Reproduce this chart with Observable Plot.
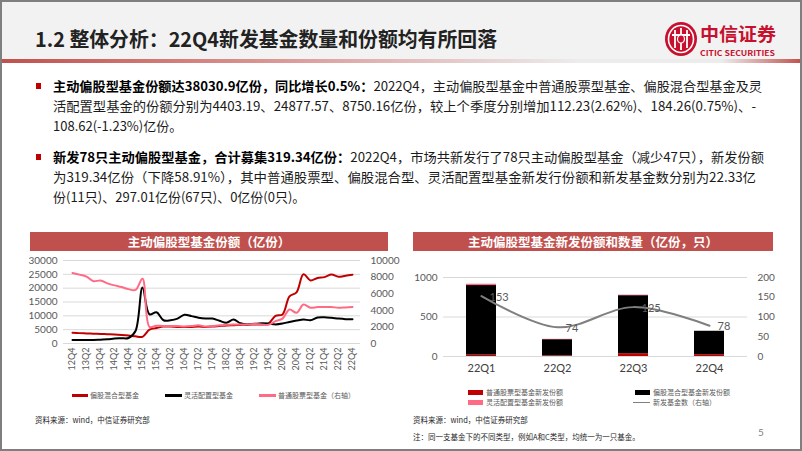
<!DOCTYPE html>
<html><head><meta charset="utf-8">
<script src="https://cdn.jsdelivr.net/npm/d3@7"></script>
<script src="https://cdn.jsdelivr.net/npm/@observablehq/plot@0.6"></script>
<style>
html,body{margin:0;padding:0;background:#fff;}
#slide{position:relative;width:802px;height:451px;overflow:hidden;background:#fff;font-family:"Noto Sans CJK SC","Noto Sans",sans-serif;}
.abs{position:absolute;}
.banner{position:absolute;top:232px;height:19px;background:#C0504D;color:#fff;font-weight:bold;font-size:12.5px;line-height:19px;text-align:center;white-space:nowrap;}
.leg{position:absolute;font-size:7px;color:#595959;white-space:nowrap;line-height:10px;}
.sw{position:absolute;}
.src{position:absolute;font-size:7.5px;color:#262626;white-space:nowrap;line-height:10px;}
</style></head><body>
<div id="slide">
  <div class="abs" style="left:0;top:0;width:802px;height:59px;background:#f2f2f2"></div>
  <div class="abs" style="left:0;top:59px;width:802px;height:4px;background:linear-gradient(to right,#C0504D 0%,#d88e8c 30%,#ececec 72%,#ececec 90%,#C0504D 100%)"></div>
  <svg class="abs" style="left:0;top:0" width="802" height="230" font-family="'Noto Sans CJK SC', sans-serif">
    <text x="35" y="47" font-size="20" font-weight="bold" fill="#222" textLength="462" lengthAdjust="spacingAndGlyphs">1.2 整体分析：22Q4新发基金数量和份额均有所回落</text>
    <g transform="translate(681,39)">
      <ellipse rx="16" ry="17" fill="#C8102E"/>
      <ellipse rx="12.5" ry="13.5" fill="none" stroke="#fff" stroke-width="1.6"/>
      <path d="M-6,-9 V9 M0,-11 V11 M6,-9 V9 M-9,-4 H9" stroke="#fff" stroke-width="1.8" fill="none"/>
      <ellipse rx="3.5" ry="4" fill="#C8102E" stroke="#fff" stroke-width="1.2"/>
    </g>
    <text x="700" y="41" font-size="18" font-weight="bold" fill="#C8102E" textLength="76" lengthAdjust="spacingAndGlyphs">中信证券</text>
    <text x="700" y="56" font-size="7" font-weight="bold" fill="#C8102E" textLength="75" lengthAdjust="spacingAndGlyphs">CITIC SECURITIES</text>
    <g font-size="13" fill="#1a1a1a">
      <rect x="36" y="83" width="5" height="6" fill="#C00000"/>
      <text x="53" y="91" textLength="709" lengthAdjust="spacingAndGlyphs"><tspan font-weight="bold" fill="#000">主动偏股型基金份额达38030.9亿份，同比增长0.5%：</tspan>2022Q4，主动偏股型基金中普通股票型基金、偏股混合型基金及灵</text>
      <text x="53" y="111" textLength="703" lengthAdjust="spacingAndGlyphs">活配置型基金的份额分别为4403.19、24877.57、8750.16亿份，较上个季度分别增加112.23(2.62%)、184.26(0.75%)、-</text>
      <text x="53" y="131">108.62(-1.23%)亿份。</text>
      <rect x="36" y="154" width="5" height="6" fill="#C00000"/>
      <text x="53" y="162" textLength="711" lengthAdjust="spacingAndGlyphs"><tspan font-weight="bold" fill="#000">新发78只主动偏股型基金，合计募集319.34亿份：</tspan>2022Q4，市场共新发行了78只主动偏股型基金（减少47只），新发份额</text>
      <text x="53" y="182" textLength="703" lengthAdjust="spacingAndGlyphs">为319.34亿份（下降58.91%），其中普通股票型、偏股混合型、灵活配置型基金新发行份额和新发基金数分别为22.33亿</text>
      <text x="53" y="202">份(11只)、297.01亿份(67只)、0亿份(0只)。</text>
    </g>
  </svg>
  <div class="banner" style="left:30px;width:358px">主动偏股型基金份额（亿份）</div>
  <div class="banner" style="left:413px;width:360px">主动偏股型基金新发份额和数量（亿份，只）</div>
  <div id="left" class="abs" style="left:0;top:250px"></div>
  <div id="right" class="abs" style="left:400px;top:260px"></div>

  <div class="sw" style="left:72px;top:394px;width:16px;height:2.5px;background:#C00000"></div>
  <div class="leg" style="left:90px;top:390px">偏股混合型基金</div>
  <div class="sw" style="left:165px;top:394px;width:17px;height:2.5px;background:#000"></div>
  <div class="leg" style="left:184px;top:390px">灵活配置型基金</div>
  <div class="sw" style="left:259px;top:394px;width:17px;height:2.5px;background:#FF6B85"></div>
  <div class="leg" style="left:278px;top:390px">普通股票型基金（右轴）</div>
  <div class="src" style="left:35px;top:415px">资料来源：wind，中信证券研究部</div>

  <div class="sw" style="left:468px;top:390px;width:15px;height:4.5px;background:#C00000"></div>
  <div class="leg" style="left:486px;top:387px">普通股票型基金新发份额</div>
  <div class="sw" style="left:635px;top:390px;width:15px;height:4.5px;background:#000"></div>
  <div class="leg" style="left:653px;top:387px">偏股混合型基金新发份额</div>
  <div class="sw" style="left:468px;top:400px;width:15px;height:4.5px;background:#FF6B85"></div>
  <div class="leg" style="left:486px;top:397px">灵活配置型基金新发份额</div>
  <div class="sw" style="left:633px;top:401.5px;width:17px;height:1.5px;background:#7f7f7f"></div>
  <div class="leg" style="left:653px;top:397px">新发基金数（右轴）</div>
  <div class="src" style="left:413px;top:415px">资料来源：wind，中信证券研究部</div>
  <div class="src" style="left:413px;top:432px">注：同一支基金下的不同类型，例如A和C类型，均统一为一只基金。</div>
  <div class="abs" style="left:758px;top:426px;font-size:10px;color:#7f7f7f;font-family:Lato,sans-serif">5</div>
  <div class="abs" style="left:0;top:0;width:802px;height:451px;box-sizing:border-box;border:2px solid #7f7f7f;pointer-events:none"></div>
</div>
<script>
// ---- Left chart data (亿份) ----
const quarters = ["12Q4","13Q1","13Q2","13Q3","13Q4","14Q1","14Q2","14Q3","14Q4","15Q1","15Q2","15Q3","15Q4","16Q1","16Q2","16Q3","16Q4","17Q1","17Q2","17Q3","17Q4","18Q1","18Q2","18Q3","18Q4","19Q1","19Q2","19Q3","19Q4","20Q1","20Q2","20Q3","20Q4","21Q1","21Q2","21Q3","21Q4","22Q1","22Q2","22Q3","22Q4"];
const tickQuarters = ["12Q4","13Q2","13Q4","14Q2","14Q4","15Q2","15Q4","16Q2","16Q4","17Q2","17Q4","18Q2","18Q4","19Q2","19Q4","20Q2","20Q4","21Q2","21Q4","22Q2","22Q4"];
const mixedShares = [3900,3750,3650,3550,3450,3350,3250,3100,2900,2600,2400,5000,5600,6100,6100,6000,6000,6000,6100,6000,6100,6300,6500,6600,6700,6800,6900,6900,7200,10000,10500,17000,18500,25000,22800,23700,24000,24900,24100,24500,24878];
const flexShares = [1300,1300,1300,1300,1400,1500,1800,1900,2000,4500,20200,10500,11300,8400,8400,9000,10400,9900,9300,9000,9000,8200,7500,8700,7300,6900,7100,7300,7200,6900,7200,7800,8300,8700,8400,9400,9500,9300,9000,8800,8750];
const stockShares = [8500,8300,8050,7500,7600,7250,7000,6800,6550,6450,7800,2000,2150,2100,2100,2100,2050,2100,2200,2050,2100,2200,2250,2300,2300,2300,2350,2300,2250,2700,3000,4100,3700,4700,4300,4400,4400,4400,4300,4350,4403];
const leftTicks = [0,5000,10000,15000,20000,25000,30000];
const rightTicks = [0,2000,4000,6000,8000,10000];

// ---- Right chart data ----
const newQuarters = ["22Q1","22Q2","22Q3","22Q4"];
const newStock = [18, 8, 35, 22.33];
const newMixed = [880, 205, 735, 297.01];
const newFlex = [17, 5, 7, 0];
const newCount = [153, 74, 125, 78];
const seriesNames = ["普通股票型基金新发份额","偏股混合型基金新发份额","灵活配置型基金新发份额"];
const barTicks = [0, 500, 1000];
const countTicks = [0, 50, 100, 150, 200];

const RATIO_L = 3;  // right axis 10000 -> left 30000
const RATIO_R = 5;  // right axis 200 -> left 1000

const baseStyle = {fontFamily: "Lato, 'Noto Sans CJK SC', sans-serif", fontSize: "10px", color: "#595959", background: "transparent", overflow: "visible"};

const left = Plot.plot({
  width: 402, height: 130,
  marginLeft: 63, marginRight: 42, marginTop: 10, marginBottom: 37,
  x: {type: "point", domain: quarters, padding: 0.5},
  y: {domain: [0, 30000]},
  style: baseStyle,
  marks: [
    Plot.gridY(leftTicks, {stroke: "#d9d9d9", strokeOpacity: 1}),
    Plot.axisY(leftTicks, {tickSize: 0, tickPadding: 6, tickFormat: d => String(d), label: null}),
    Plot.axisY(rightTicks.map(d => d * RATIO_L), {anchor: "right", tickSize: 0, tickPadding: 10, tickFormat: d => String(d / RATIO_L), label: null}),
    Plot.axisX(tickQuarters, {tickRotate: -90, tickSize: 0, tickPadding: 4, label: null, fontSize: 9}),
    Plot.line(mixedShares, {x: (d, i) => quarters[i], y: d => d, stroke: "#C00000", strokeWidth: 2, curve: "catmull-rom"}),
    Plot.line(flexShares, {x: (d, i) => quarters[i], y: d => d, stroke: "#000000", strokeWidth: 2, curve: "catmull-rom"}),
    Plot.line(stockShares, {x: (d, i) => quarters[i], y: d => d * RATIO_L, stroke: "#FF6B85", strokeWidth: 2, curve: "catmull-rom"})
  ]
});
document.getElementById("left").appendChild(left);

const rows = newQuarters.flatMap((q, i) => [
  {q, s: seriesNames[0], v: newStock[i]},
  {q, s: seriesNames[1], v: newMixed[i]},
  {q, s: seriesNames[2], v: newFlex[i]}
]);

const right = Plot.plot({
  width: 402, height: 120,
  marginLeft: 43, marginRight: 55, marginTop: 17, marginBottom: 24,
  x: {type: "band", domain: newQuarters, paddingInner: 0.6, paddingOuter: 0.3},
  y: {domain: [0, 1000]},
  color: {domain: seriesNames, range: ["#C00000", "#000000", "#FF6B85"]},
  style: baseStyle,
  marks: [
    Plot.gridY(barTicks, {stroke: "#d9d9d9", strokeOpacity: 1}),
    Plot.axisY(barTicks, {tickSize: 0, tickPadding: 6, tickFormat: d => String(d), label: null}),
    Plot.axisY(countTicks.map(d => d * RATIO_R), {anchor: "right", tickSize: 0, tickPadding: 10, tickFormat: d => String(d / RATIO_R), label: null}),
    Plot.axisX(newQuarters, {tickSize: 0, tickPadding: 8, label: null, fontSize: 11, fill: "#404040"}),
    Plot.barY(rows, Plot.stackY({x: "q", y: "v", fill: "s", order: seriesNames})),
    Plot.line(newCount, {x: (d, i) => newQuarters[i], y: d => d * RATIO_R, stroke: "#7f7f7f", strokeWidth: 2, curve: "catmull-rom"}),
    Plot.text(newCount, {x: (d, i) => newQuarters[i], y: d => d * RATIO_R, text: d => String(d), dx: 8, dy: 1, textAnchor: "start", fill: "#595959", fontSize: 11})
  ]
});
document.getElementById("right").appendChild(right);
</script>
</body></html>
